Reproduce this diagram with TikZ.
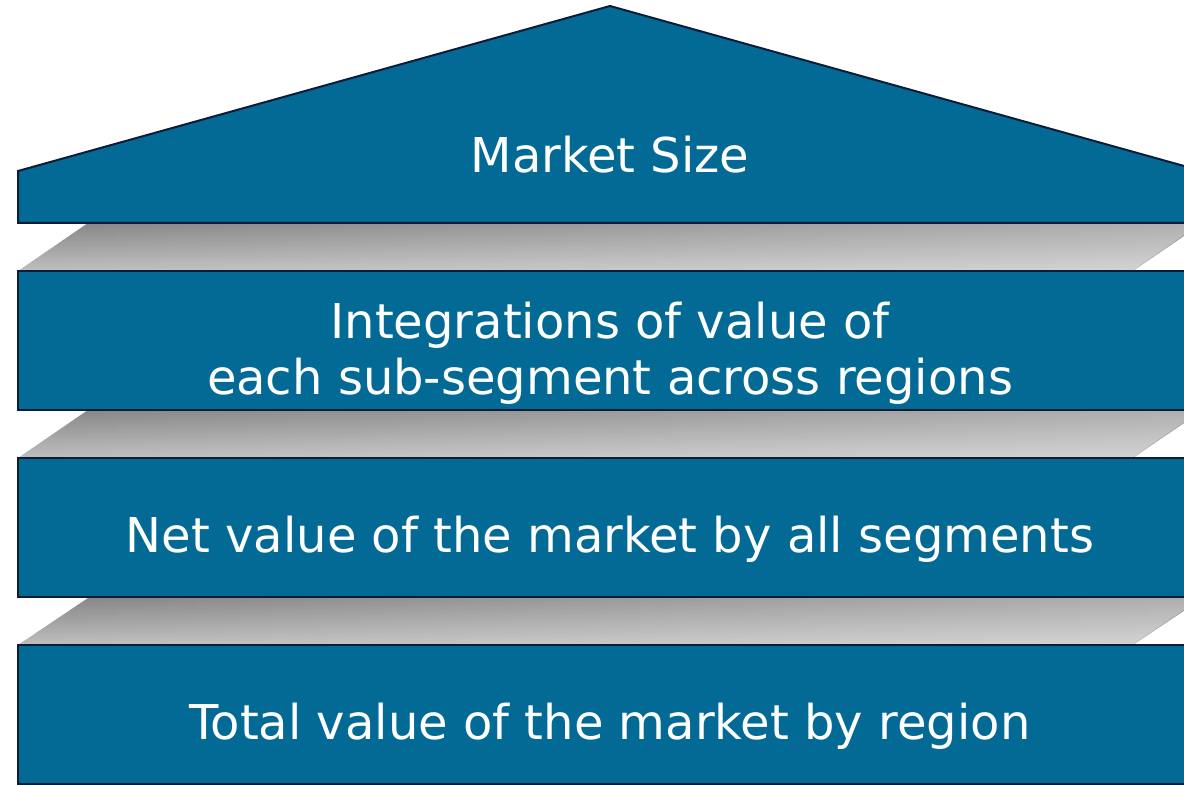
\documentclass[tikz,border=0pt]{standalone}
\usepackage{fontspec}
\setmainfont{DejaVu Sans}
\usepackage{xcolor}
\usetikzlibrary{fadings}
\definecolor{barblue}{RGB}{3,106,150}
\definecolor{edgenavy}{RGB}{10,28,56}

\tikzset{
  bar/.style={draw=edgenavy, line width=1pt, fill=barblue,
    minimum width=592pt, minimum height=69.5pt, inner sep=0pt},
  bartext/.style={text=white, inner sep=0pt, anchor=base,
    font=\fontsize{24}{28}\selectfont, align=center},
  slab/.style={top color=gray!95, bottom color=gray!50, draw=none},
  sheen/.style={fill=white, fill opacity=0.35, path fading=west}
}

\begin{document}
\begin{tikzpicture}[x=0.5pt, y=-0.5pt]
  % picture frame, the right side is cut off
  \useasboundingbox (0,0) rectangle (1184,785);
  \clip (0,0) rectangle (1184,785);

  % grey slabs between the bars
  \foreach \t/\b in {223/271, 410/458, 598/645} {
    \shade[slab] (88,\t) -- (1203,\t) -- (1133,\b) -- (18,\b) -- cycle;
    \fill[sheen] (88,\t) -- (1203,\t) -- (1133,\b) -- (18,\b) -- cycle;
  }

  % roof
  \draw[draw=edgenavy, line width=1pt, fill=barblue]
    (18,223) -- (18,171) -- (610,6) -- (1202,171) -- (1202,223) -- cycle;
  \node[bartext] (roof) at (610,173) {Market Size};

  % the three bars
  \node[bar] (integ) at (610,340.5) {};
  \node[bar] (net) at (610,528) {};
  \node[bar] (total) at (610,714.5) {};

  \node[bartext] (integtext) at ([yshift=-27.25pt]integ.center) {Integrations of value of\\each sub-segment across regions};
  \node[bartext] (nettext) at ([yshift=-12.5pt]net.center) {Net value of the market by all segments};
  \node[bartext] (totaltext) at ([yshift=-12.5pt]total.center) {Total value of the market by region};
\end{tikzpicture}
\end{document}
